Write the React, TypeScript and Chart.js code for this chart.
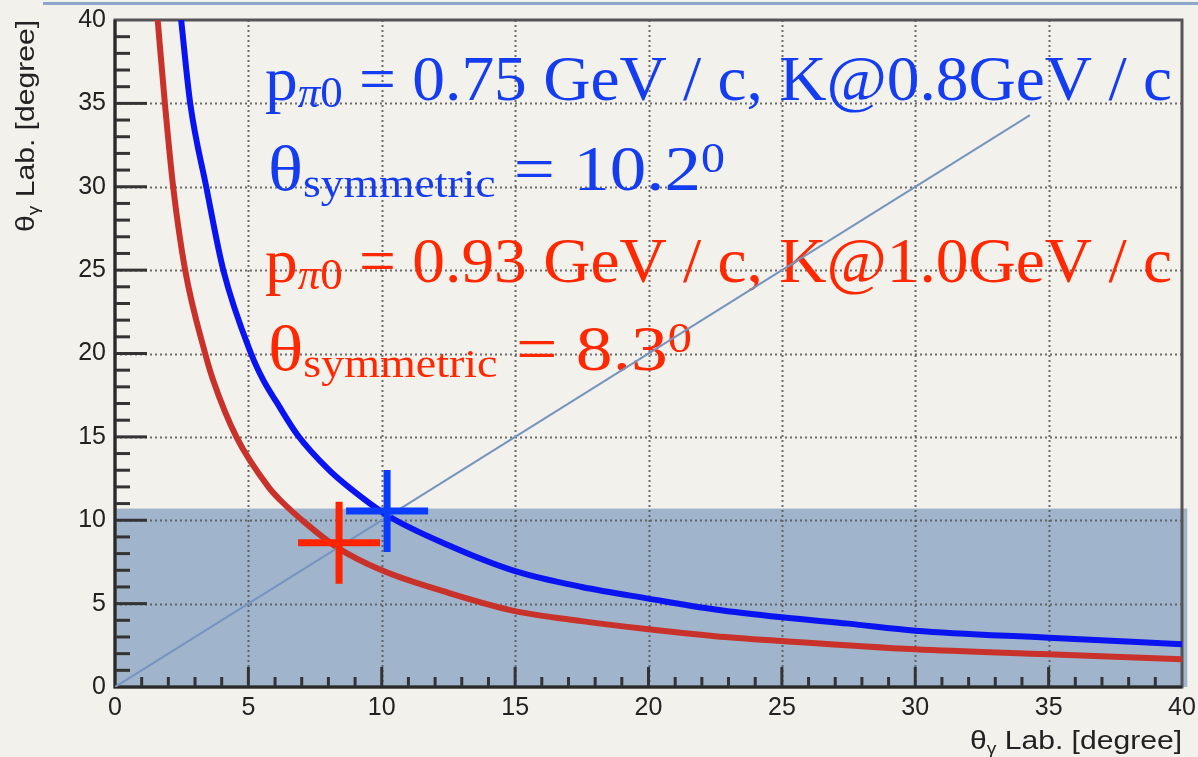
import React, { useEffect, useRef } from "react";
import { Chart, registerables } from "chart.js";
Chart.register(...registerables);

// ---- data ----
const BLUE_X = [2.48, 2.82, 3.42, 4.06, 5.1, 5.56, 6.07, 6.85, 8.0, 8.75, 10.2, 12.5, 15, 17.5, 20, 22.5, 25, 27.5, 30, 35, 40];
const BLUE_Y = [40, 35, 30, 25, 20, 18.4, 17.05, 15.1, 13.05, 12, 10.3, 8.5, 6.95, 6.0, 5.3, 4.65, 4.18, 3.8, 3.38, 2.96, 2.56];

const RED_X = [1.6, 1.87, 2.18, 2.63, 3.38, 3.68, 4.55, 5.75, 6.2, 7.2, 8.3, 10, 12.5, 15, 17.5, 20, 22.5, 25, 30, 35, 40];
const RED_Y = [40, 35, 30, 25, 20, 18.4, 15, 12, 11.2, 9.75, 8.4, 7.0, 5.65, 4.55, 3.95, 3.46, 3.05, 2.76, 2.26, 1.96, 1.66];

const DIAG_X = [0, 34.3];
const DIAG_Y = [0, 34.3];

const CROSS_X = [10.2, 8.4];
const CROSS_Y = [10.55, 8.65];
const CROSS_COLORS = ["#0a3cff", "#ff2400"];

const SHADE_X = [0, 40.2];
const SHADE_Y = [0, 10.7];

const AXIS_MIN = 0;
const AXIS_MAX = 40;
const MAJOR_STEP = 5;
const MINOR_STEP = 1;

const AXIS_TITLE = ["θ", "γ", " Lab. [degree]"];
const BLUE_LINE1 = ["p", "π0", " = 0.75 GeV / c, K@0.8GeV / c"];
const BLUE_LINE2 = ["θ", "symmetric", " = 10.2", "0"];
const RED_LINE1 = ["p", "π0", " = 0.93 GeV / c, K@1.0GeV / c"];
const RED_LINE2 = ["θ", "symmetric", " = 8.3", "0"];

const SANS = '"Liberation Sans", Arial, sans-serif';
const SERIF = '"Liberation Serif", "DejaVu Serif", serif';

type Seg = { text: string; font: string; dy?: number };

function drawRich(ctx: CanvasRenderingContext2D, segs: Seg[], x: number, y: number, targetW: number, color: string, align: "left" | "right" = "left") {
  let w = 0;
  for (const s of segs) {
    ctx.font = s.font;
    w += ctx.measureText(s.text).width;
  }
  const sx = targetW / w;
  ctx.save();
  ctx.translate(x, y);
  ctx.scale(sx, 1);
  ctx.fillStyle = color;
  ctx.textAlign = "left";
  ctx.textBaseline = "alphabetic";
  let cx = align === "right" ? -w : 0;
  for (const s of segs) {
    ctx.font = s.font;
    ctx.fillText(s.text, cx, s.dy || 0);
    cx += ctx.measureText(s.text).width;
  }
  ctx.restore();
}

const decorPlugin = {
  id: "decor",
  beforeDraw(chart: any) {
    const ctx = chart.ctx as CanvasRenderingContext2D;
    ctx.save();
    ctx.fillStyle = "rgb(243,241,236)";
    ctx.fillRect(0, 0, chart.width, chart.height);
    ctx.strokeStyle = "#8ca5c8";
    ctx.lineWidth = 3;
    ctx.beginPath();
    ctx.moveTo(43, 3.5);
    ctx.lineTo(chart.width, 3.5);
    ctx.stroke();
    ctx.restore();
  },
  beforeDatasetsDraw(chart: any) {
    const ctx = chart.ctx as CanvasRenderingContext2D;
    const xs = chart.scales.x;
    const ys = chart.scales.y;
    const a = chart.chartArea;
    ctx.save();
    // shaded box
    const rx0 = xs.getPixelForValue(SHADE_X[0]);
    const rx1 = xs.getPixelForValue(SHADE_X[1]);
    const ry0 = ys.getPixelForValue(SHADE_Y[1]);
    const ry1 = ys.getPixelForValue(SHADE_Y[0]);
    ctx.fillStyle = "rgba(105,140,182,0.6)";
    ctx.fillRect(rx0, ry0, rx1 - rx0, ry1 - ry0);

    // dotted grid
    ctx.strokeStyle = "rgba(85,85,85,0.85)";
    ctx.lineWidth = 2;
    ctx.setLineDash([2, 3]);
    for (let v = AXIS_MIN + MAJOR_STEP; v < AXIS_MAX; v += MAJOR_STEP) {
      const px = Math.round(xs.getPixelForValue(v)) + 0.5;
      ctx.beginPath();
      ctx.moveTo(px, a.top);
      ctx.lineTo(px, a.bottom);
      ctx.stroke();
      const py = Math.round(ys.getPixelForValue(v)) + 0.5;
      ctx.beginPath();
      ctx.moveTo(a.left, py);
      ctx.lineTo(a.right, py);
      ctx.stroke();
    }
    ctx.setLineDash([]);

    // annotation texts
    const big = `64px ${SERIF}`;
    const sub = `italic 44px ${SERIF}`;
    const sub0 = `44px ${SERIF}`;
    const subSym = `40px ${SERIF}`;
    const sup = `42px ${SERIF}`;
    const blue = "#143cf0";
    const red = "#ff2800";
    const l1 = (t: string[]): Seg[] => [
      { text: t[0], font: big },
      { text: t[1].slice(0, 1), font: sub, dy: 7 },
      { text: t[1].slice(1), font: sub0, dy: 7 },
      { text: t[2], font: big },
    ];
    const l2 = (t: string[]): Seg[] => [
      { text: t[0], font: big },
      { text: t[1], font: subSym, dy: 7 },
      { text: t[2], font: big },
      { text: t[3], font: sup, dy: -18 },
    ];
    drawRich(ctx, l1(BLUE_LINE1), 265, 100, 907, blue);
    drawRich(ctx, l2(BLUE_LINE2), 268, 190, 457, blue);
    drawRich(ctx, l1(RED_LINE1), 265, 282, 907, red);
    drawRich(ctx, l2(RED_LINE2), 268, 370, 424, red);

    // ticks
    ctx.strokeStyle = "#333";
    ctx.lineWidth = 3;
    for (let v = AXIS_MIN + MINOR_STEP; v < AXIS_MAX; v += MINOR_STEP) {
      const major = v % MAJOR_STEP === 0;
      const py = ys.getPixelForValue(v);
      ctx.beginPath();
      ctx.moveTo(a.left, py);
      ctx.lineTo(a.left + (major ? 32 : 15), py);
      ctx.stroke();
      const px = xs.getPixelForValue(v);
      ctx.beginPath();
      ctx.moveTo(px, a.bottom);
      ctx.lineTo(px, a.bottom - (major ? 20 : 10));
      ctx.stroke();
    }
    // frame
    ctx.strokeStyle = "#555";
    ctx.lineWidth = 3;
    ctx.strokeRect(a.left, a.top, a.right - a.left, a.bottom - a.top);
    ctx.strokeStyle = "#2a2a2a";
    ctx.beginPath();
    ctx.moveTo(a.left, a.top);
    ctx.lineTo(a.left, a.bottom);
    ctx.lineTo(a.right, a.bottom);
    ctx.stroke();

    // axis titles
    const tSegs: Seg[] = [
      { text: AXIS_TITLE[0], font: `25px ${SANS}` },
      { text: AXIS_TITLE[1], font: `16px ${SANS}`, dy: 5 },
      { text: AXIS_TITLE[2], font: `25px ${SANS}` },
    ];
    drawRich(ctx, tSegs, a.right, 749, 212, "#222", "right");
    ctx.save();
    ctx.translate(34, a.top);
    ctx.rotate(-Math.PI / 2);
    drawRich(ctx, tSegs, 0, 0, 212, "#222", "right");
    ctx.restore();
    ctx.restore();
  },
};

const zeroPad = (s: any) => {
  s.paddingTop = 0;
  s.paddingBottom = 0;
  s.paddingLeft = 0;
  s.paddingRight = 0;
};

export default function App() {
  const ref = useRef<HTMLCanvasElement>(null);
  useEffect(() => {
    if (!ref.current) return;
    const pts = (xs: number[], ys: number[]) => xs.map((x, i) => ({ x, y: ys[i] }));
    const tickFont = { family: SANS, size: 25 };
    const chart = new Chart(ref.current, {
      type: "scatter",
      data: {
        datasets: [
          {
            label: "symmetric points",
            data: pts(CROSS_X, CROSS_Y),
            showLine: false,
            pointStyle: "cross",
            pointRadius: 41,
            pointBorderWidth: 7,
            pointBorderColor: CROSS_COLORS,
            pointBackgroundColor: CROSS_COLORS,
            clip: false,
          } as any,
          {
            label: "diagonal",
            data: pts(DIAG_X, DIAG_Y),
            showLine: true,
            borderColor: "#7594c0",
            borderWidth: 2,
            pointRadius: 0,
          },
          {
            label: "K@0.8GeV/c",
            data: pts(BLUE_X, BLUE_Y),
            showLine: true,
            borderColor: "#0a14f0",
            borderWidth: 6,
            pointRadius: 0,
            cubicInterpolationMode: "monotone",
          } as any,
          {
            label: "K@1.0GeV/c",
            data: pts(RED_X, RED_Y),
            showLine: true,
            borderColor: "#c9322b",
            borderWidth: 6,
            pointRadius: 0,
            cubicInterpolationMode: "monotone",
          } as any,
        ],
      },
      options: {
        animation: false,
        responsive: false,
        devicePixelRatio: 1,
        events: [],
        layout: { autoPadding: false, padding: { left: 0, right: 16, top: 20, bottom: 0 } },
        plugins: { legend: { display: false }, tooltip: { enabled: false } },
        scales: {
          x: {
            type: "linear",
            min: AXIS_MIN,
            max: AXIS_MAX,
            grid: { display: false, drawTicks: false },
            border: { display: false },
            ticks: { stepSize: MAJOR_STEP, font: tickFont, color: "#222", padding: 6, maxRotation: 0 },
            afterFit: (s: any) => { s.height = 70; zeroPad(s); },
          },
          y: {
            type: "linear",
            min: AXIS_MIN,
            max: AXIS_MAX,
            grid: { display: false, drawTicks: false },
            border: { display: false },
            ticks: { stepSize: MAJOR_STEP, font: tickFont, color: "#222", padding: 9 },
            afterFit: (s: any) => { s.width = 115; zeroPad(s); },
          },
        },
      },
      plugins: [decorPlugin],
    });
    return () => chart.destroy();
  }, []);
  return (
    <div style={{ position: "absolute", left: 0, top: 0, width: 1198, height: 757, background: "rgb(243,241,236)" }}>
      <canvas ref={ref} width={1198} height={757} />
    </div>
  );
}
